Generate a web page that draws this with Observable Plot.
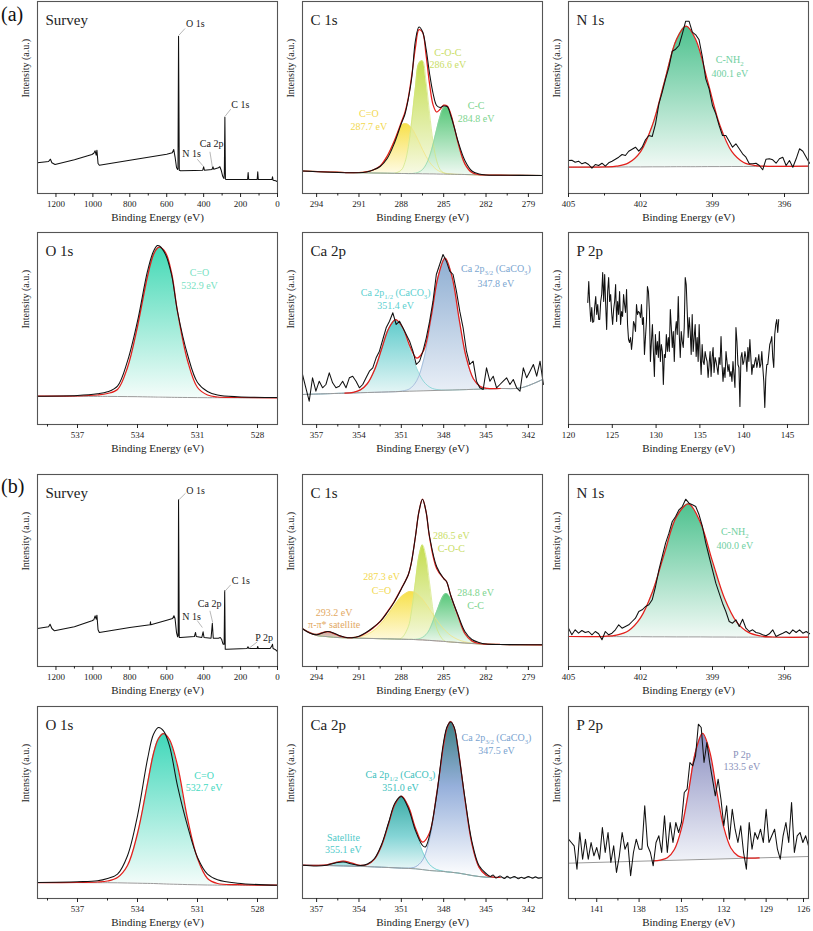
<!DOCTYPE html>
<html><head><meta charset="utf-8">
<script src="https://cdn.jsdelivr.net/npm/d3@7"></script>
<script src="https://cdn.jsdelivr.net/npm/@observablehq/plot@0.6"></script>
<style>
body{margin:0;background:#fff;font-family:"Liberation Serif","Times New Roman",serif}
#wrap{position:relative;width:813px;height:931px;overflow:hidden;background:#fff}
.tag{position:absolute;font-size:20px;line-height:1;color:#111;font-family:"Liberation Serif",serif}
#wrap svg text{font-family:"Liberation Serif","Times New Roman",serif}
</style></head>
<body><div id="wrap"><div class="tag" style="left:1px;top:4px">(a)</div><div class="tag" style="left:1px;top:476px">(b)</div></div>
<script>
// ---------------- DATA ----------------
// Survey spectra (binding energy eV, intensity a.u.)
const surveyA_E = [1300,1240,1230,1222,1205,1100,1005,995,988,982,978,972,965,800,600,570,562,555,547,541,539,536,532,525,450,405,400,396,355,350,345,320,312,305,297,290,288,285,282,275,162,159,156,110,107,104,30,27,24,10,0];
const surveyA_I = [30.7,32,34.3,30.7,29,33.7,39,40.3,42.7,38.3,43.3,30,28.3,33.3,39.3,40.7,44,36.7,26,24,25,157.3,23.3,22.7,23,23.3,26.7,23.3,24,26.7,24.3,25.7,26.7,23.3,17.3,15,20,76.3,14.3,14,14,21,14,14,21.7,14,14,16.7,13.3,12.7,11.7];
const surveyB_E = [1300,1240,1232,1222,1208,1100,1005,995,988,982,978,972,965,800,690,688,686,600,568,561,555,547,541,538,536,532,525,450,444,440,410,403,398,360,353,348,320,310,303,295,289,286,283,275,165,160,155,110,107,104,40,30,27,24,10,0];
const surveyB_I = [38,39.7,42.3,38,35.7,39.7,45.7,46.7,50.7,47.3,51.3,36.7,34,39,41.7,44.7,41.7,46.3,48,50.7,48,34,29.7,30.7,166.7,29,29,30,34,30,29,34.7,29,28.3,43.3,28.3,28.3,29,27.3,22.3,22.3,75.7,17.3,17.3,18,19.7,18,18,20,18,18,20.7,22.3,18,16.7,15];

// C 1s (a)
const c1sA_E    = [295,293,292,291,290.5,290,289.5,289,288.5,288,287.75,287.5,287.25,287,286.75,286.5,286.25,286,285.75,285.5,285.25,285,284.75,284.5,284.25,284,283.5,283,282.5,282,281,278];
const c1sA_base = [22.5,21.5,21,20.8,20.7,20.5,20.4,20.3,20.2,20,20,19.9,19.9,19.8,19.8,19.7,19.7,19.6,19.6,19.5,19.4,19.4,19.3,19.3,19.2,19.1,19,18.8,18.6,18.5,18.3,18];
const c1sA_CO   = [22.5,21.5,21,21,21.7,23.5,27,37,52,67.8,70,68.9,65.1,58.9,51.6,44,37.2,31.4,27.1,23.9,21.9,20.7,19.9,19.6,19.2,19.1,19,18.8,18.6,18.5,18.3,18];
const c1sA_COC  = [22.5,21.5,21,20.8,20.7,20.5,20.4,20.3,20.2,23.5,30.9,47.1,74.1,106.3,130.3,132.7,112.2,80.2,51.4,32.9,23.9,20.6,19.6,19.3,19.2,19.1,19,18.8,18.6,18.5,18.3,18];
const c1sA_CC   = [22.5,21.5,21,20.8,20.7,20.5,20.4,20.3,20.2,20,20,19.9,19.9,20.4,21.5,23.9,28.9,37.2,49.3,63.7,77.2,85.8,86.6,79.3,66.3,51.6,29.6,20.9,18.85,18.5,18.3,18];
const c1sA_fit  = [22.5,21.5,21,21,21.7,23.5,27.5,37.5,52.5,71.3,80.9,96.1,119.3,146,163.8,161.2,138.9,109.6,88.6,81.5,84.2,88.3,87.5,79.6,66.3,51.6,29.6,20.9,18.85,18.5,18.3,18];
const c1sA_data = [22.5,21.2,20.8,20.8,21.5,23.5,27,35,50,70,79,95,117,153,166.5,162,145,120,100,88,86,87.5,87,78,66,53,33,22.5,19.5,18.5,18.3,18];

// N 1s (a): raw data on a uniform energy grid
const n1sA_start = 405, n1sA_step = -0.1395;
const n1sA_data = [33,33.3,31.3,32.3,29.7,31,29,25.3,29,28,30.3,27.3,30.7,32.3,34.3,36.3,39,38,42.3,44.3,46.3,42.3,46.3,53.7,58,57,69.7,89.7,101.3,114.7,126.3,142.3,144.3,148,159.7,172.3,172.3,161.3,158.7,153.7,136.3,114.7,104.7,88,79.7,68,58,58,52.3,46.3,49.7,44.7,39.7,36.3,29.7,29.7,30.3,28,23.7,34.3,34.7,33.7,30.3,34.7,36.3,28,33,26.3,34.7,44.7,42.3,36.3,30.3];
const n1sA_E    = [405,403.5,403,402.5,402,401.5,401,400.5,400.1,399.7,399.2,398.7,398.2,397.7,397.2,396.7,395];
const n1sA_base = [26.3,26.5,26.5,26.6,26.6,26.7,26.7,26.8,26.8,26.8,26.9,26.9,27,27,27.1,27.1,27.3];
const n1sA_fit  = [26.3,26.6,27.3,30.6,41.7,68.6,111.9,154.1,167.3,154.1,112.1,68.8,42.1,31,27.9,27.2,27.3];

// O 1s (a)
const o1sA_E    = [539,537,536,535.5,535,534.5,534,533.5,533.2,533,532.9,532.6,532.3,532,531.5,531,530.5,530,529,527];
const o1sA_base = [28.3,28.2,28.1,28.1,28,27.9,27.8,27.6,27.5,27.4,27.4,27.3,27.2,27.1,27,26.9,26.8,26.8,26.7,26.7];
const o1sA_data = [28.3,29,30.7,32.7,38.3,63.3,103.3,153.3,173.3,179,178.5,170,150,113,70,42,33,29.5,27.7,27];
const o1sA_fit  = [28.3,28.5,29.5,31,35,57,98,148,170,176.5,177.3,172,152,113,64,37,29.5,27.5,27,26.7];

// Ca 2p (a)
const caA_start = 358, caA_step = -0.237;
const caA_data = [50,36.7,23.3,46.7,33.3,43.3,36.7,40,51.7,41.7,36.7,38.3,43.3,36.7,46.7,48.3,43.3,36.7,40,46.7,53.3,56.7,66.7,73.3,85,96.7,103.3,111.7,100,103.3,96.7,90,83.3,73.3,60,63.3,73.3,86.7,103.3,123.3,150,160,170,163.3,153.3,150,133.3,113.3,96.7,73.3,60,63.3,43.3,36.7,35,56.7,43.3,48.3,36.7,40,43.3,46.7,40,45,36.7,33.3,56.7,46.7,53.3,60,48.3,63.3,40];
const caA_E    = [358,356,355,354.4,353.9,353.4,352.9,352.4,351.9,351.4,350.9,350.4,349.9,349.4,348.9,348.4,347.9,347.4,346.9,346.4,345.9,345.4,344.9,344,342.5,341];
const caA_base = [30,30.9,31.3,31.5,31.8,32,32.2,32.4,32.6,32.8,33.1,33.3,33.5,33.7,33.9,34.1,34.3,34.5,34.7,34.9,35.2,35.4,35.6,36,36.7,45];
const caA_p12  = [30,30.9,31.4,32.2,34.6,41,54.5,75.2,95.8,104.8,96.3,76.1,55.8,42.7,36.7,34.8,34.4,34.5,34.7,34.9,35.2,35.4,35.6,36,36.7,45];
const caA_p32  = [30,30.9,31.3,31.5,31.8,32,32.2,32.4,32.6,32.8,33.6,35.8,44.1,65.6,104.1,146.8,166.3,147.2,104.9,66.8,45.8,37.9,36.05,36,36.7,45];
const caA_fit  = [30,30.9,31.4,32.2,34.6,41,54.5,75.2,95.8,104.9,96.8,78.6,66.4,74.6,106.9,147.5,166.4,147.2,104.9,66.8,45.8,37.9,36.05,36,36.7,45];

// P 2p (a): raw data, uniform grid over this range
const p2pA_range = [122.2, 144.0];
const p2pA_data = [122,143,120,103,117,102,103,118,128,110,120,105,105,123,130,152,123,150,120,95,133,147,123,130,112,100,115,123,140,103,123,110,133,100,113,108,130,120,112,135,100,85,82,87,75,85,103,100,93,120,110,113,112,107,120,100,107,70,87,103,138,133,113,63,83,100,73,48,90,70,83,67,93,63,80,73,40,70,67,90,73,87,73,115,97,77,93,63,93,103,90,128,90,67,93,83,77,97,147,140,113,87,107,93,70,110,73,87,100,68,87,63,100,70,50,80,63,60,73,67,63,47,60,73,48,67,77,52,67,63,57,50,67,60,88,60,43,57,47,73,63,53,60,48,53,43,63,50,37,97,83,60,57,18,67,72,60,63,73,67,53,77,63,85,67,50,60,57,63,67,57,63,70,57,60,73,57,43,17,47,60,60,70,80,83,88,67,57,90,100,105,92,105];

// C 1s (b)
const c1sB_E    = [295,294.5,294,293.6,293.2,292.8,292.4,292,291.5,291,290.5,290,289.5,289,288.5,288,287.5,287.3,287,286.75,286.5,286.25,286,285.5,285,284.8,284.5,284,283.5,283,282.5,282,281,278];
const c1sB_base = [37.7,34,31,30.3,29.8,29.3,28.9,28.7,28.5,28.3,28.1,28,27.8,27.7,27.5,27.3,27.1,27.1,26.9,26.7,26.6,26.3,26.1,25.6,25.1,24.9,24.5,24,23.5,23,22.6,22.4,22,21.7];
const c1sB_sat  = [37.7,34.2,32.4,33.9,34.8,32.9,30.3,29,28.5,28.3,28.1,28,27.8,27.7,27.5,27.3,27.1,27.1,26.9,26.7,26.6,26.3,26.1,25.6,25.1,24.9,24.5,24,23.5,23,22.6,22.4,22,21.7];
const c1sB_CO   = [37.7,34,31,30.3,29.8,29.3,28.9,28.9,29,29.8,31.6,35.5,41.8,50.7,60.8,69.7,74.6,75.1,73.8,71.1,67.4,62.5,57.3,46.6,37.5,34.7,31,27,24.7,23.4,22.6,22.4,22,21.7];
const c1sB_COC  = [37.7,34,31,30.3,29.8,29.3,28.9,28.7,28.5,28.3,28.1,28,27.8,27.7,27.5,28.3,40,53.5,84.5,110.5,121.6,110.1,83.7,38.5,26.1,24.9,24.5,24,23.5,23,22.6,22.4,22,21.7];
const c1sB_CC   = [37.7,34,31,30.3,29.8,29.3,28.9,28.7,28.5,28.3,28.1,28,27.8,27.7,27.5,27.3,27.1,27.1,27.2,27.7,29.1,31.9,37.1,54.7,71.2,72.9,68.3,49,32.1,24.8,22.8,22.4,22,21.7];
const c1sB_data = [37.7,33.5,31.7,33.6,35,33.5,31,29.3,28.8,30.3,34,39,45,54,64.5,77.5,92,103,130,155,167.3,155,130,100,88,85,71,52,35,27,24,22.5,22,21.7];
const c1sB_fit  = [37.7,33.8,31.8,33.6,34.9,33.2,30.6,29.2,28.8,30,33.5,38.5,45,54.5,65,78,92,103,130,155,167.3,155,129,98,88,85,71,51,33,25.5,23,22.4,22,21.7];

// N 1s (b)
const n1sB_start = 405, n1sB_step = -0.1395;
const n1sB_data = [38.3,31.7,36.7,33.3,36,34,35,31.7,35,32.7,26.7,35,31.7,33.3,36.7,41.7,38.3,40,41.7,45,48.3,55,56.7,60,61.7,66.7,80,96.7,110,123.3,133.3,145,150,156.7,160,167.3,163.3,161.7,160,151.7,140,123.3,110,96.7,83.3,73.3,63.3,55,45,43.3,46.7,40,47.3,38.3,35,36.7,34,33.3,31.7,30.7,32.7,36.7,30,31.7,33.3,35,32.7,36.7,34,36.7,33.3,35,32.7];
const n1sB_E    = [405,403.5,403,402.5,402,401.5,401,400.5,400,399.5,399,398.5,398,397.5,397,396.5,395];
const n1sB_base = [30,29.9,29.9,29.8,29.8,29.7,29.7,29.6,29.6,29.6,29.5,29.5,29.4,29.4,29.4,29.3,29.3];
const n1sB_fit  = [30,30.2,31.4,35.8,48.6,74.8,113.4,149.7,162.7,143.7,105.1,68.2,44.7,34.1,30.5,29.5,29.3];

// O 1s (b)
const o1sB_E    = [539,537,536,535.5,535,534.5,534,533.5,533.2,532.95,532.7,532.4,532,531.5,531,530.5,530,529,527];
const o1sB_base = [16,15.9,15.8,15.8,15.7,15.5,15.3,15.1,15,14.8,14.6,14.4,14.2,13.9,13.7,13.5,13.4,13.3,13.3];
const o1sB_data = [16,16.7,17.7,20,24.3,42.7,82.7,139.3,164.3,171,167.7,152.7,112.7,72.7,41,24.3,18.7,15.3,13.3];
const o1sB_fit  = [16,16,16.5,17.5,21,33,65,115,145,160,165,159,133,80,40,20,15,13.8,13.3];

// Ca 2p (b)
const caB_E    = [358,357,356.3,355.7,355.1,354.5,353.9,353.4,352.9,352.4,351.9,351.45,351,350.5,350,349.5,349,348.5,348,347.75,347.5,347.25,347,346.5,346,345.5,345,344.5,344,342,341];
const caB_base = [33.3,33.1,33,32.8,32.6,32.4,32.1,31.9,31.6,31.3,31,30.7,30.4,30.1,29.7,28.9,28,27.5,27,26.6,26.3,25.9,25.5,24.3,23,22,21.3,21.1,21,21,21];
const caB_sat  = [33.3,33.1,33.6,35.7,37.3,35.3,32.7,31.9,31.6,31.3,31,30.7,30.4,30.1,29.7,28.9,28,27.5,27,26.6,26.3,25.9,25.5,24.3,23,22,21.3,21.1,21,21,21];
const caB_p12  = [33.3,33.1,33,32.8,32.6,32.4,32.5,34,39.4,52.8,74.7,94.2,102.4,91.8,68.6,46.9,34.1,29,27.3,26.6,26.3,25.9,25.5,24.3,23,22,21.3,21.1,21,21,21];
const caB_p32  = [33.3,33.1,33,32.8,32.6,32.4,32.1,31.9,31.6,31.3,31,30.7,30.4,30.4,31.7,38.3,59.7,102.9,153.7,171,177,170.3,152.2,99.7,54.7,31.4,23.3,21.4,21,21,21];
const caB_fit  = [33.3,33.1,33.6,35.7,37.3,35.3,33.1,34,39.4,52.8,74.7,94.2,102.4,92.1,70.6,56.3,65.8,104.4,154,171,177,170.3,152.2,99.7,54.7,31.4,23.3,21.4,21,21,21];
const caB_dataE = [358,357,356.3,355.7,355.1,354.5,353.9,353.4,352.9,352.4,351.9,351.45,351,350.5,350,349.5,349.3,349,348.5,348,347.75,347.5,347.25,347,346.5,346,345.5,345,344.7,344.5,344.3,344,343.7,343.5,343.3,343,342.7,342.5,342.3,342,341.7,341.5,341.3,341];
const caB_data  = [33.3,32.5,33.3,35.5,36.5,34.5,33,34.5,40,54,76,95.5,102,90,68,53,51.5,63,103,157,172,176.5,171,151,101,57,33,25,22,23.5,20.5,22.5,20,22.3,20.3,22,19.7,21.3,20,22,20.3,21.7,20.3,21];

// P 2p (b)
const p2pB_start = 143, p2pB_step = -0.2;
const p2pB_data = [59.3,56,52.7,29.3,66,39.3,59.3,39.3,56,42.7,51,39.3,71,46,66,36,52.7,26,42.7,66,49.3,56,22.7,46,59.3,49.3,49.3,92.7,52.7,46,32.7,56,62.7,46,82.7,46,76,56,76,66,76,106,109.3,136,132.7,142.7,174.3,171,136,156,136,119.3,102.7,119.3,99.3,72.7,92.7,59.3,89.3,69.3,56,72.7,46,29.3,76,49.3,66,59.3,69.3,56,89.3,56,62.7,69.3,49.3,39.3,62.7,76,56,96,46,62.7,66,56,62.7,52.7];
const p2pB_E    = [137,136.5,136,135.5,135,134.5,134,133.5,133,132.5,132,131.5,131,130.5,130,129.5];
const p2pB_base = [37.7,37.9,38.1,38.3,38.5,38.7,38.9,39.1,39.2,39.4,39.6,39.8,40,40.2,40.4,40.6];
const p2pB_fit  = [37.7,38.4,40.7,49,69.9,106.7,146.9,165.1,147.2,107.4,71,50.5,42.6,40.7,40.4,40.6];
const p2pB_baseE = [143,126], p2pB_baseline = [35.3,42];

// Axis ticks
const surveyTicks = [1200,1000,800,600,400,200,0], surveyMinor = [1100,900,700,500,300,100];
const c1sTicks = [294,291,288,285,282,279], c1sMinor = [292.5,289.5,286.5,283.5,280.5];
const n1sTicks = [405,402,399,396], n1sMinor = [403.5,400.5,397.5];
const o1sTicks = [537,534,531,528], o1sMinor = [538.5,535.5,532.5,529.5];
const caTicks = [357,354,351,348,345,342], caMinor = [355.5,352.5,349.5,346.5,343.5];
const p2pATicks = [120,125,130,135,140,145];
const p2pBTicks = [141,138,135,132,129,126], p2pBMinor = [142.5,139.5,136.5,133.5,130.5,127.5];

// ---------------- DRAWING ----------------
const NS = "http://www.w3.org/2000/svg";
const FONT = '"Liberation Serif","Times New Roman",serif';
const wrap = document.getElementById("wrap");
const COLS = [37, 302, 568], ROWS = [1, 232, 474, 706];
const W = 240, H = 192, ML = 30, MR = 8, MT = 4, MB = 36;

const energyGrid = (start, step, n) => Array.from({length: n}, (_, i) => start + i * step);
const rangeGrid = (r, n) => Array.from({length: n}, (_, i) => r[0] + i * (r[1] - r[0]) / (n - 1));

const area = (E, b, y, id) => Plot.areaY(E, {x: E, y1: b, y2: y, fill: `url(#${id})`, fillOpacity: 0.88, curve: "catmull-rom"});
const outline = (E, y, c) => Plot.line(E, {x: E, y: y, stroke: c, strokeWidth: 0.7, curve: "catmull-rom"});
const baseLine = (E, b) => Plot.line(E, {x: E, y: b, stroke: "#9a9a9a", strokeWidth: 1, curve: "catmull-rom"});
const fitLine = (E, y) => Plot.line(E, {x: E, y: y, stroke: "#e41f1b", strokeWidth: 1.25, curve: "catmull-rom"});
const dataLine = (E, y, curve = "linear") => Plot.line(E, {x: E, y: y, stroke: "#111", strokeWidth: 1.05, curve});
const labels = (texts, x, y, color, size = 10) => Plot.text(texts, {x, y, text: d => d, fill: color, fontSize: size, fontFamily: FONT});

function addGradients(svg, grads) {
  const defs = document.createElementNS(NS, "defs");
  for (const [id, stops] of Object.entries(grads)) {
    const g = document.createElementNS(NS, "linearGradient");
    g.setAttribute("id", id);
    g.setAttribute("x1", "0"); g.setAttribute("y1", "0"); g.setAttribute("x2", "0"); g.setAttribute("y2", "1");
    for (const [o, c] of stops) {
      const s = document.createElementNS(NS, "stop");
      s.setAttribute("offset", o); s.setAttribute("stop-color", c);
      g.appendChild(s);
    }
    defs.appendChild(g);
  }
  svg.insertBefore(defs, svg.firstChild);
}

function fixSubs(svg) {
  svg.querySelectorAll("text").forEach(el => {
    const s = el.textContent;
    if (!s.includes("_{")) return;
    const fs = 10;
    while (el.firstChild) el.removeChild(el.firstChild);
    let shifted = false;
    s.split(/(_\{[^}]*\})/).forEach(p => {
      if (!p) return;
      const t = document.createElementNS(NS, "tspan");
      if (p.startsWith("_{")) {
        t.textContent = p.slice(2, -1);
        t.setAttribute("font-size", fs * 0.68);
        t.setAttribute("dy", fs * 0.28);
        shifted = true;
      } else {
        t.textContent = p;
        if (shifted) { t.setAttribute("dy", -fs * 0.28); shifted = false; }
      }
      el.appendChild(t);
    });
  });
}

function makePanel({col, row, domain, ticks, minor, edgeTick, title, marks, grads}) {
  const all = [...marks,
    Plot.frame({stroke: "#555", strokeWidth: 1.1}),
    Plot.axisX({ticks, tickSize: 4, tickPadding: 3, tickFormat: d => String(d), label: null, fontSize: 9, fontFamily: FONT})];
  if (edgeTick != null) all.push(Plot.axisX({ticks: [edgeTick], tickSize: 4, tickPadding: 3, tickFormat: d => String(d), label: null, fontSize: 9, fontFamily: FONT, dx: -5}));
  if (minor) all.push(Plot.axisX({ticks: minor, tickSize: 2.5, tickFormat: () => "", label: null}));
  all.push(
    Plot.text(["Intensity (a.u.)"], {text: d => d, frameAnchor: "left", dx: -12, rotate: -90, fontSize: 10, fontFamily: FONT}),
    Plot.text(["Binding Energy (eV)"], {text: d => d, frameAnchor: "bottom", dy: 27, fontSize: 11, fontFamily: FONT}),
    Plot.text([title], {text: d => d, frameAnchor: "top-left", dx: 8, dy: 13, fontSize: 15, textAnchor: "start", fontFamily: FONT})
  );
  const svg = Plot.plot({
    width: ML + W + MR, height: MT + H + MB,
    marginLeft: ML, marginRight: MR, marginTop: MT, marginBottom: MB,
    x: {domain}, y: {domain: [0, 192], axis: null},
    style: {background: "transparent", overflow: "visible", fontFamily: FONT, fontSize: "9px", color: "#222"},
    marks: all
  });
  if (grads) addGradients(svg, grads);
  svg.setAttribute("font-family", FONT);
  svg.style.position = "absolute";
  svg.style.left = (COLS[col] - ML) + "px";
  svg.style.top = (ROWS[row] - MT) + "px";
  svg.style.background = "transparent";
  svg.style.overflow = "visible";
  svg.style.fontFamily = FONT;
  wrap.appendChild(svg);
  fixSubs(svg);
}

const YEL = "#f6dc2f", YGR = "#bcd835", GRN = "#3fbf66";

// ---- (a) Survey
makePanel({col: 0, row: 0, domain: [1300, 0], ticks: surveyTicks, minor: surveyMinor, title: "Survey",
  marks: [
    dataLine(surveyA_E, surveyA_I),
    Plot.link([0,1,2,3], {x1: [534,286,353,404], y1: [158.3,76.7,26.7,27.7], x2: [501,253.5,366,434.5], y2: [165,84.3,41.7,34.3], stroke: "#999", strokeWidth: 0.7}),
    labels(["O 1s","C 1s","Ca 2p","N 1s"], [445,201,357,465], [169.3,88.3,50,39.3], "#222", 10)
  ]});

// ---- (a) C 1s
makePanel({col: 1, row: 0, domain: [295, 278], ticks: c1sTicks, minor: c1sMinor, title: "C 1s",
  grads: {gA2co: [[0, YEL],[1, "#fffbe6"]], gA2coc: [[0, YGR],[1, "#f6fae6"]], gA2cc: [[0, GRN],[1, "#eef9f1"]]},
  marks: [
    area(c1sA_E, c1sA_base, c1sA_CO, "gA2co"),
    area(c1sA_E, c1sA_base, c1sA_COC, "gA2coc"),
    area(c1sA_E, c1sA_base, c1sA_CC, "gA2cc"),
    outline(c1sA_E, c1sA_CO, "#f3e27a"), outline(c1sA_E, c1sA_COC, "#d2e57a"), outline(c1sA_E, c1sA_CC, "#8fd6a2"),
    baseLine(c1sA_E, c1sA_base), fitLine(c1sA_E, c1sA_fit), dataLine(c1sA_E, c1sA_data, "catmull-rom"),
    labels(["C-O-C","286.6 eV"], [284.7,284.7], [140.7,129], "#c9dd66"),
    labels(["C=O","287.7 eV"], [290.3,290.3], [80,66.7], "#f2d850"),
    labels(["C-C","284.8 eV"], [282.7,282.7], [87.3,75], "#7dd48e")
  ]});

// ---- (a) N 1s
makePanel({col: 2, row: 0, domain: [405, 395], ticks: n1sTicks, minor: n1sMinor, title: "N 1s",
  grads: {gA3: [[0, "#35b97f"],[1, "#eef8f3"]]},
  marks: [
    area(n1sA_E, n1sA_base, n1sA_fit, "gA3"),
    baseLine(n1sA_E, n1sA_base), fitLine(n1sA_E, n1sA_fit),
    dataLine(energyGrid(n1sA_start, n1sA_step, n1sA_data.length), n1sA_data),
    labels(["C-NH_{2}","400.1 eV"], [398.28,398.28], [133.3,119.3], "#6fcf9f")
  ]});

// ---- (a) O 1s
makePanel({col: 0, row: 1, domain: [539, 527], ticks: o1sTicks, minor: o1sMinor, title: "O 1s",
  grads: {gA4: [[0, "#28d3aa"],[1, "#f2fcf9"]]},
  marks: [
    area(o1sA_E, o1sA_base, o1sA_fit, "gA4"),
    baseLine(o1sA_E, o1sA_base), fitLine(o1sA_E, o1sA_fit), dataLine(o1sA_E, o1sA_data, "catmull-rom"),
    labels(["C=O","532.9 eV"], [530.9,530.9], [151.7,139], "#78dfc2")
  ]});

// ---- (a) Ca 2p
makePanel({col: 1, row: 1, domain: [358, 341], ticks: caTicks, minor: caMinor, title: "Ca 2p",
  grads: {gA5a: [[0, "#48c4c4"],[1, "#e3f5f5"]], gA5b: [[0, "#7fa3cc"],[1, "#e8eef6"]]},
  marks: [
    area(caA_E, caA_base, caA_p12, "gA5a"),
    area(caA_E, caA_base, caA_p32, "gA5b"),
    outline(caA_E, caA_p12, "#6fcfcf"), outline(caA_E, caA_p32, "#8fb0d4"),
    baseLine(caA_E, caA_base), fitLine(caA_E.slice(2, 24), caA_fit.slice(2, 24)),
    dataLine(energyGrid(caA_start, caA_step, caA_data.length), caA_data),
    labels(["Ca 2p_{1/2} (CaCO_{3})","351.4 eV"], [351.4,351.4], [131.7,118.3], "#5ccfcf"),
    labels(["Ca 2p_{3/2} (CaCO_{3})","347.8 eV"], [344.3,344.3], [155.7,141], "#7aa5d0")
  ]});

// ---- (a) P 2p
makePanel({col: 2, row: 1, domain: [120, 147.4], ticks: p2pATicks, title: "P 2p",
  marks: [ dataLine(rangeGrid(p2pA_range, p2pA_data.length), p2pA_data) ]});

// ---- (b) Survey
makePanel({col: 0, row: 2, domain: [1300, 0], ticks: surveyTicks, minor: surveyMinor, title: "Survey",
  marks: [
    dataLine(surveyB_E, surveyB_I),
    Plot.link([0,1,2,3,4], {x1: [534,286,351,407,154], y1: [166.7,75,44,39,18.3], x2: [498,253.5,366,435,109], y2: [173.3,81.7,55.7,46,24.7], stroke: "#999", strokeWidth: 0.7}),
    labels(["O 1s","C 1s","Ca 2p","N 1s","P 2p"], [444,199,367.5,465,72], [175.7,85.7,62.3,50,28.3], "#222", 10)
  ]});

// ---- (b) C 1s
makePanel({col: 1, row: 2, domain: [295, 278], ticks: c1sTicks, minor: c1sMinor, title: "C 1s",
  grads: {gB2s: [[0, "#b98a7a"],[1, "#f5ece8"]], gB2co: [[0, YEL],[1, "#fffbe6"]], gB2coc: [[0, YGR],[1, "#f6fae6"]], gB2cc: [[0, GRN],[1, "#eef9f1"]]},
  marks: [
    area(c1sB_E, c1sB_base, c1sB_sat, "gB2s"),
    area(c1sB_E, c1sB_base, c1sB_CO, "gB2co"),
    area(c1sB_E, c1sB_base, c1sB_COC, "gB2coc"),
    area(c1sB_E, c1sB_base, c1sB_CC, "gB2cc"),
    outline(c1sB_E, c1sB_sat, "#c9a090"), outline(c1sB_E, c1sB_CO, "#f3e27a"), outline(c1sB_E, c1sB_COC, "#d2e57a"), outline(c1sB_E, c1sB_CC, "#8fd6a2"),
    baseLine(c1sB_E, c1sB_base), fitLine(c1sB_E, c1sB_fit), dataLine(c1sB_E, c1sB_data, "catmull-rom"),
    labels(["293.2 eV","π-π* satellite"], [292.76,292.76], [53.3,41.7], "#e2a862"),
    labels(["287.3 eV","C=O"], [289.4,289.4], [89.3,76], "#f2d850"),
    labels(["286.5 eV","C-O-C"], [284.46,284.46], [130.7,117.3], "#c9dd66"),
    labels(["284.8 eV","C-C"], [282.74,282.74], [73.3,61], "#7dd48e")
  ]});

// ---- (b) N 1s
makePanel({col: 2, row: 2, domain: [405, 395], ticks: n1sTicks, minor: n1sMinor, title: "N 1s",
  grads: {gB3: [[0, "#35b97f"],[1, "#eef8f3"]]},
  marks: [
    area(n1sB_E, n1sB_base, n1sB_fit, "gB3"),
    baseLine(n1sB_E, n1sB_base), fitLine(n1sB_E, n1sB_fit),
    dataLine(energyGrid(n1sB_start, n1sB_step, n1sB_data.length), n1sB_data),
    labels(["C-NH_{2}","400.0 eV"], [398.07,398.07], [135,120.7], "#6fcf9f")
  ]});

// ---- (b) O 1s
makePanel({col: 0, row: 3, domain: [539, 527], ticks: o1sTicks, minor: o1sMinor, title: "O 1s",
  grads: {gB4: [[0, "#25d2b0"],[1, "#f2fcf9"]]},
  marks: [
    area(o1sB_E, o1sB_base, o1sB_fit, "gB4"),
    baseLine(o1sB_E, o1sB_base), fitLine(o1sB_E, o1sB_fit), dataLine(o1sB_E, o1sB_data, "catmull-rom"),
    labels(["C=O","532.7 eV"], [530.67,530.67], [122.7,111], "#43d8bf")
  ]});

// ---- (b) Ca 2p
makePanel({col: 1, row: 3, domain: [358, 341], ticks: caTicks, minor: caMinor, title: "Ca 2p",
  grads: {gB5s: [[0, "#7fd4d4"],[1, "#eef9f9"]], gB5a: [[0, "#1f9e98"],[0.5, "#74cfd0"],[1, "#ffffff"]], gB5b: [[0, "#236f74"],[0.42, "#88a5d6"],[1, "#ffffff"]]},
  marks: [
    area(caB_E, caB_base, caB_sat, "gB5s"),
    area(caB_E, caB_base, caB_p12, "gB5a"),
    area(caB_E, caB_base, caB_p32, "gB5b"),
    outline(caB_E, caB_sat, "#7fd4d4"), outline(caB_E, caB_p12, "#45c3c3"), outline(caB_E, caB_p32, "#6f98c8"),
    baseLine(caB_E, caB_base), fitLine(caB_E.slice(0, 29), caB_fit.slice(0, 29)), dataLine(caB_dataE, caB_data, "catmull-rom"),
    labels(["Satellite","355.1 eV"], [355.1,355.1], [61,48.3], "#4fc9c9"),
    labels(["Ca 2p_{1/2} (CaCO_{3})","351.0 eV"], [351.06,351.06], [123.7,110.3], "#3cbfbd"),
    labels(["Ca 2p_{3/2} (CaCO_{3})","347.5 eV"], [344.26,344.26], [161,147.7], "#79a3cf")
  ]});

// ---- (b) P 2p
makePanel({col: 2, row: 3, domain: [143, 126], ticks: p2pBTicks.slice(0, -1), edgeTick: p2pBTicks[p2pBTicks.length - 1], minor: p2pBMinor, title: "P 2p",
  grads: {gB6: [[0, "#7c80b9"],[1, "#eef0f7"]]},
  marks: [
    area(p2pB_E, p2pB_base, p2pB_fit, "gB6"),
    baseLine(p2pB_baseE, p2pB_baseline), fitLine(p2pB_E, p2pB_fit),
    dataLine(energyGrid(p2pB_start, p2pB_step, p2pB_data.length), p2pB_data),
    labels(["P 2p","133.5 eV"], [130.72,130.72], [143.3,132], "#8990ba")
  ]});
</script>
</body></html>
